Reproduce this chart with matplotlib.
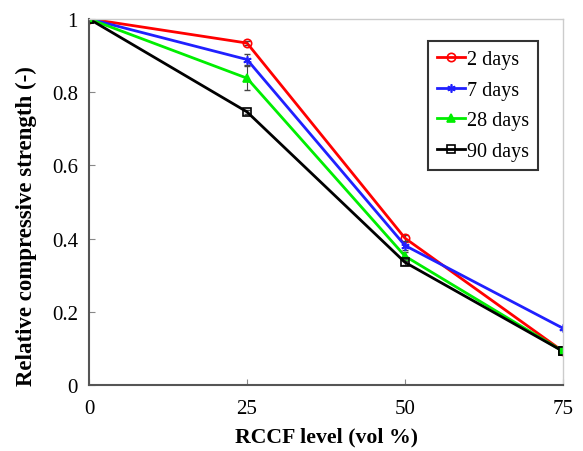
import numpy as np
import matplotlib.pyplot as plt

plt.rcParams['font.family'] = ['Liberation Serif', 'DejaVu Serif']

# RCCF replacement level (vol %)
rccf_level = [0, 25, 50, 75]

# relative compressive strength by curing age
strength_2d = [1.0, 0.934, 0.401, 0.092]
strength_7d = [1.0, 0.889, 0.381, 0.155]
strength_28d = [1.0, 0.838, 0.352, 0.092]
strength_90d = [1.0, 0.746, 0.335, 0.092]

err_2d = [0.0, 0.005, 0.010, 0.004]
err_7d = [0.0, 0.016, 0.012, 0.004]
err_28d = [0.0, 0.032, 0.012, 0.004]
err_90d = [0.0, 0.006, 0.008, 0.004]

labels = ['2 days', '7 days', '28 days', '90 days']

fig = plt.figure(figsize=(5.83, 4.52), dpi=100)
ax = fig.add_axes([0.1527, 0.146, 0.813, 0.810])

series = [
    (strength_2d, err_2d, 'red', 'o', 'none'),
    (strength_7d, err_7d, '#2020ff', (6, 2, 0), 'none'),
    (strength_28d, err_28d, '#00ee00', '^', '#00ee00'),
    (strength_90d, err_90d, 'black', 's', 'none'),
]
for (vals, errs, col, mk, mfc), lab in zip(series, labels):
    ax.errorbar(rccf_level, vals, yerr=errs, fmt='none',
                ecolor='#444444', elinewidth=0.8, capsize=2.5)
    ax.plot(rccf_level, vals, color=col, lw=2, marker=mk, ms=6,
            mfc=mfc, mec=col, mew=1.2, label=lab)
# shared end points at 0 and 75
ax.plot([0, 75], [strength_90d[0], strength_90d[3]], ls='none',
        marker='s', ms=6, mfc='#00ee00', mec='black', mew=1.2)

ax.set_xlim(0, 75)
ax.set_ylim(0, 1)
ax.set_xticks([0, 25, 50, 75])
ax.set_yticks(np.arange(0, 1.01, 0.2))
ax.set_yticklabels(['0', '0.2', '0.4', '0.6', '0.8', '1'])
ax.tick_params(direction='in', length=4, width=0.8, color='#888888',
               labelsize=15, pad=8)
ax.tick_params(axis='x', pad=10)

for side in ['left', 'bottom']:
    ax.spines[side].set_color('#555555')
    ax.spines[side].set_linewidth(1.5)
for side in ['top', 'right']:
    ax.spines[side].set_color('#cccccc')
    ax.spines[side].set_linewidth(1.0)

ax.set_xlabel('RCCF level (vol %)', fontsize=15.7, fontweight='bold',
              labelpad=6)
ax.set_ylabel('Relative compressive strength (-)', fontsize=16.5,
              fontweight='bold')
ax.yaxis.set_label_coords(-0.110, 0.437)

leg = ax.legend(loc='upper right', bbox_to_anchor=(0.947, 0.94),
                fontsize=14.5, frameon=True, fancybox=False,
                edgecolor='black', handlelength=1.35, handletextpad=0.1,
                borderpad=0.45, labelspacing=0.57, borderaxespad=0)
leg.get_frame().set_linewidth(1.5)

fig.savefig('out.png', dpi=100)
